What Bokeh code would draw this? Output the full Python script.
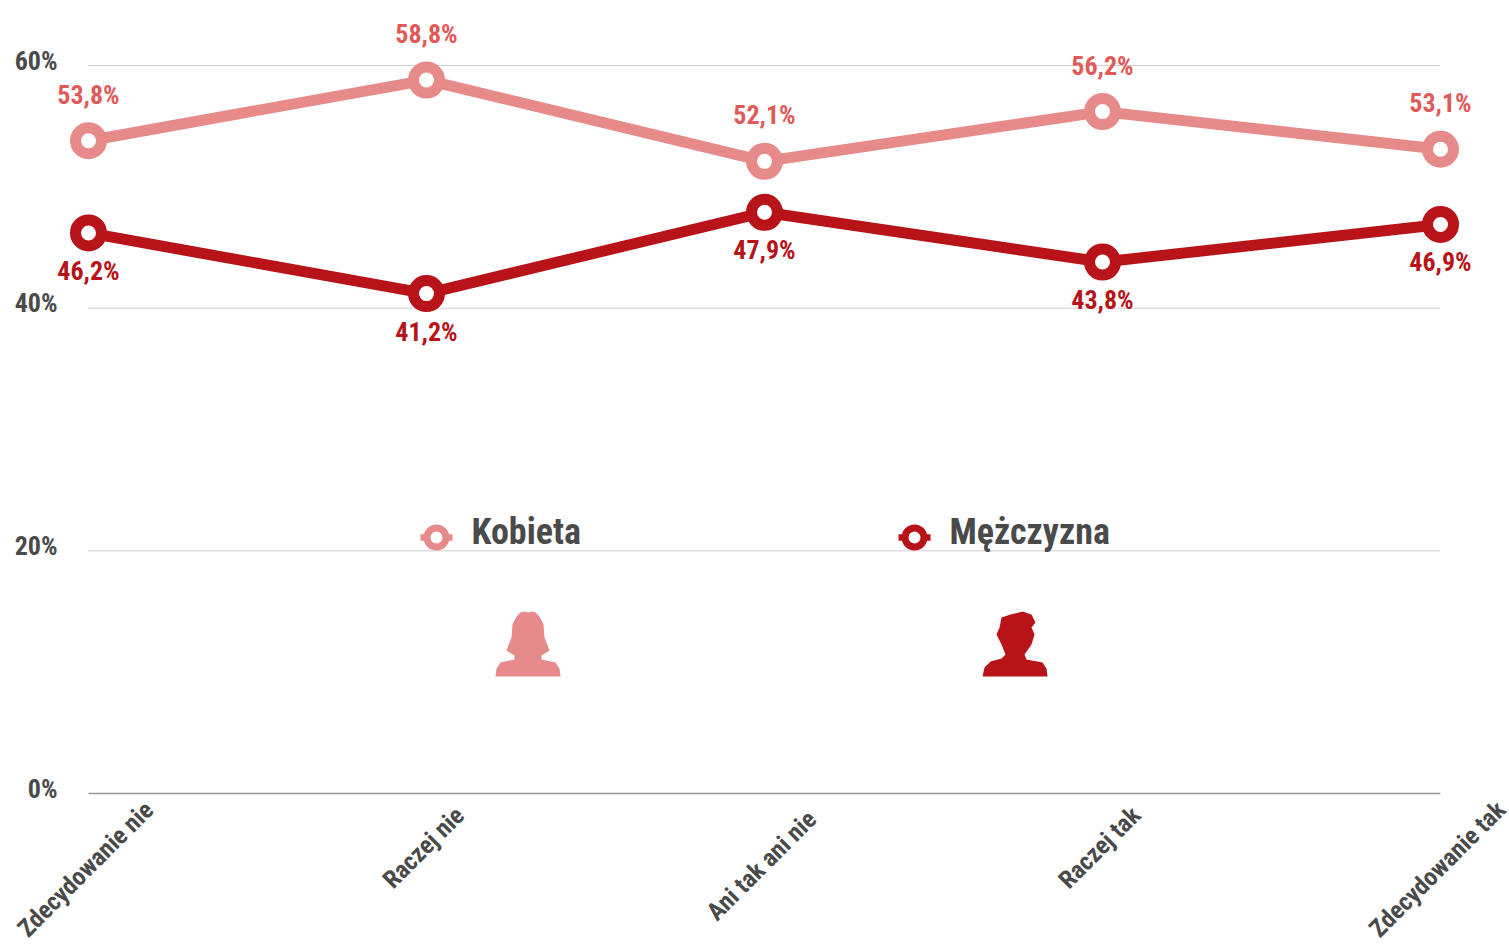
from bokeh.plotting import figure
from bokeh.models import ColumnDataSource, FixedTicker, LinearAxis, Range1d
from bokeh.core.properties import value
from bokeh.embed import file_html
from bokeh.resources import INLINE
import math

categories = ["Zdecydowanie nie", "Raczej nie", "Ani tak ani nie", "Raczej tak", "Zdecydowanie tak"]
kobieta = [53.8, 58.8, 52.1, 56.2, 53.1]
mezczyzna = [46.2, 41.2, 47.9, 43.8, 46.9]
y_ticks = [0, 20, 40, 60]
y_labels = ["0%", "20%", "40%", "60%"]

FONT = "Roboto Condensed"
PINK = "#e68a8a"
PINK_TXT = "#e05a5a"
RED = "#b71318"
GREY = "#4a4a4a"

W, H = 1509, 945
PX_X = 338.0       # pixels per category
PX_Y = 728 / 60.0  # pixels per percent

def dx(px):  # page pixel -> x value
    return (px - 88) / PX_X

def dy(py):  # page pixel -> y value
    return (793 - py) / PX_Y

y_start, y_end = dy(H), dy(0)
p = figure(width=W, height=H, output_backend="svg", toolbar_location=None,
           x_range=Range1d(dx(0), dx(W)), y_range=Range1d(y_start, y_end),
           min_border_left=0, min_border_right=0, min_border_top=0, min_border_bottom=0,
           x_axis_location=None, y_axis_location=None)
p.outline_line_color = None
p.grid.visible = False
p.background_fill_color = "white"

idx = list(range(len(categories)))

# grid
grid_src = ColumnDataSource(dict(x0=[idx[0]] * 3, x1=[idx[-1]] * 3, y=y_ticks[1:]))
p.segment("x0", "y", "x1", "y", source=grid_src, line_color="#a0a0a0", line_width=1, line_dash="1 1")
p.segment([idx[0]], [0], [idx[-1]], [0], line_color="#9a9a9a", line_width=1.5)

# y axis labels sit slightly above their gridline, as in the source
p.extra_y_ranges["labels"] = Range1d(y_start - 5 / PX_Y, y_end - 5 / PX_Y)
ya = LinearAxis(y_range_name="labels", ticker=FixedTicker(ticks=y_ticks),
                major_label_overrides=dict(zip(y_ticks, y_labels)),
                axis_line_color=None, major_tick_line_color=None, minor_tick_line_color=None,
                major_tick_out=0, major_tick_in=0, minor_tick_out=0, minor_tick_in=0,
                major_label_standoff=-57, major_label_text_font=FONT, major_label_text_font_style="bold",
                major_label_text_font_size="26px", major_label_text_color=GREY)
p.add_layout(ya, "left")

# rotated category labels, centred under their position
cat_src = ColumnDataSource(dict(x=idx, y=[0] * len(idx), t=categories,
                                off=[18 + 3.6 * len(c) for c in categories]))
p.text("x", "y", text="t", source=cat_src, angle=math.pi / 4, x_offset=-3, y_offset="off",
       text_color=GREY, text_font=value(FONT), text_font_style="bold", text_font_size="25px",
       text_align="center", text_baseline="middle")

def fmt(v):
    return f"{v:.1f}".replace(".", ",") + "%"

for vals, col, txt, off in ((kobieta, PINK, PINK_TXT, -46), (mezczyzna, RED, RED, 38)):
    src = ColumnDataSource(dict(x=idx, y=vals, t=[fmt(v) for v in vals]))
    p.line("x", "y", source=src, line_color=col, line_width=11)
    p.scatter("x", "y", source=src, size=26, fill_color="white", line_color=col, line_width=11)
    p.text("x", "y", text="t", source=src, text_color=txt, text_font=value(FONT), text_font_style="bold",
           text_font_size="26px", text_align="center", text_baseline="middle", y_offset=off)

# person icons: silhouettes in icon-box pixels
female = [(0,65),(1,57),(5,51),(19,48),(19,44),(11,39),(16,26),(17,13),(21,5),(25,1),(29,0),(33,1),(36,0),(40,1),(44,5),
          (48,13),(49,26),(54,39),(46,44),(46,48),(60,51),(64,57),(65,65)]
male = [(0,65),(2,56),(8,50),(19,47),(23,43),(19,33),(14,23),(17,16),(19,6),(28,3),(40,0),(49,3),(53,11),(49,16),
        (52,23),(49,33),(42,43),(44,48),(60,51),(64,57),(65,65)]
for shape, col, bx in ((female, PINK, 495), (male, RED, 982)):
    p.patch([dx(bx + a) for a, b in shape], [dy(611 + b) for a, b in shape], fill_color=col, line_color=None)

# legend entries
for name, col, px in (("Kobieta", PINK, 420), ("Mężczyzna", RED, 898)):
    p.segment([dx(px)], [dy(537)], [dx(px + 32)], [dy(537)], line_color=col, line_width=6.5)
    p.scatter([dx(px + 16)], [dy(537)], size=19, fill_color="white", line_color=col, line_width=7)
    p.text([dx(px + 51)], [dy(531)], text=[name], text_color=GREY, text_font=value(FONT), text_font_style="bold",
           text_font_size="36px", text_align="left", text_baseline="middle")

open("out.html", "w").write(file_html(p, INLINE))
